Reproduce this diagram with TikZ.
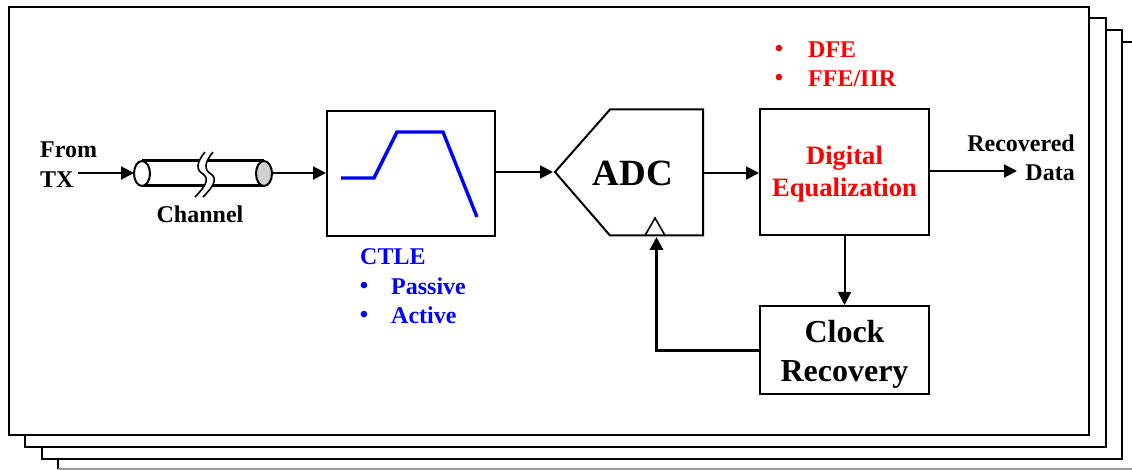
\documentclass[tikz,border=0pt]{standalone}
\usepackage{fontspec}
\setmainfont{Liberation Serif}
\usepackage{xcolor}
\usetikzlibrary{
	arrows.meta,
	calc,
	positioning,
	shapes.geometric
}
\definecolor{EqRed}{RGB}{255,0,0}
\definecolor{CtleBlue}{RGB}{0,0,255}
\tikzset{
	sheet/.style={draw=black, line width=2pt, fill=white},
	block/.style={draw=black, line width=2pt, inner sep=0pt},
	link/.style={-{Triangle[length=13pt,width=13pt]}, line width=2pt},
	lbl/.style={inner sep=0pt, font=\fontsize{24}{29}\selectfont\bfseries}
}

\begin{document}
\begin{tikzpicture}[x=1pt, y=-1pt]
			\useasboundingbox (0,0) rectangle (1132,470);
			% stacked sheets
			\draw[line width=2pt] (1132,42) -- (58,42) -- (58,469);
			\draw[line width=1.4pt, black!40] (58,469) -- (1132,469);
			\draw[sheet] (42,30) rectangle (1122,459);
			\draw[sheet] (25,18) rectangle (1106,447);
			\draw[sheet] (9,7) rectangle (1089,435);
			% blocks
			\node[block, minimum width=168pt, minimum height=125pt] (ctle) at (411,173.5) {};
			\node[block, minimum width=169pt, minimum height=126pt] (eq) at (844.5,172) {};
			\node[inner sep=0pt, align=center, text=EqRed, font=\fontsize{26.6}{32}\selectfont\bfseries] (eqtxt) at (844.5,174.5) {Digital\\Equalization};
			\node[block, minimum width=169pt, minimum height=88pt] (clk) at (844.5,350) {};
			\node[inner sep=0pt, align=center, font=\fontsize{32}{39}\selectfont\bfseries] (clktxt) at (844.5,354.5) {Clock\\Recovery};
			\draw[line width=2pt] (555,172) -- (610,109.5) -- (703,109.5) -- (703,235.5) -- (610,235.5) -- cycle;
			\node[inner sep=0pt, font=\fontsize{37}{44}\selectfont\bfseries] (adc) at (633,173) {ADC};
			\coordinate (adcin) at (553,172);
			\coordinate (adcout) at (703,173);
			\coordinate (adcclk) at (656.5,237);
			\draw[line width=1.6pt] (645,235.5) -- (655,218) -- (665,235.5);
			% filter shape
			\draw[CtleBlue, line width=3.4pt] (341,178) -- (374,178) -- (397,132) -- (443,132) -- (477,217);
			% channel
			\coordinate (lcap) at (134,173);
			\coordinate (rcap) at (272,173);
			\draw[line width=3pt] (142,161) -- (264,161) (142,186) -- (264,186);
			\draw[line width=2pt, fill=white] (142,173.5) ellipse (8pt and 12.5pt);
			\draw[line width=2pt, fill=black!18] (264,173.5) ellipse (8pt and 12.5pt);
			\fill[white] (205,152) .. controls (196,163) and (196,170) .. (203,174) .. controls (210,179) and (205,187) .. (195,197) -- (203,197) .. controls (213,187) and (218,179) .. (211,174) .. controls (204,170) and (204,163) .. (213,152) -- cycle;
			\draw[line width=1.6pt] (205,152) .. controls (196,163) and (196,170) .. (203,174) .. controls (210,179) and (205,187) .. (195,197);
			\draw[line width=1.6pt] (213,152) .. controls (204,163) and (204,170) .. (211,174) .. controls (218,179) and (213,187) .. (203,197);
			% labels
			\node[lbl, align=left, anchor=west, font=\fontsize{24}{30}\selectfont\bfseries] (from) at (40,164.5) {From\\TX};
			\node[lbl] (chan) at (200,214) {Channel};
			\node[lbl, text=CtleBlue, anchor=west] (ctlelbl) at (360,257) {CTLE};
			\node[lbl, text=CtleBlue] (dota) at (364,288) {•};
			\node[lbl, text=CtleBlue, anchor=west] (passive) at (391,286.5) {Passive};
			\node[lbl, text=CtleBlue] (dotb) at (364,317) {•};
			\node[lbl, text=CtleBlue, anchor=west] (active) at (391,315.5) {Active};
			\node[lbl, text=EqRed] (dotc) at (779,51) {•};
			\node[lbl, text=EqRed, anchor=west] (dfe) at (808,50) {DFE};
			\node[lbl, text=EqRed] (dotd) at (779,80) {•};
			\node[lbl, text=EqRed, anchor=west] (ffe) at (808,79) {FFE/IIR};
			\node[lbl, align=right, anchor=east] (data) at (1075,157.5) {Recovered\\Data};
			% connectors
			\coordinate (txend) at (78,173);
			\coordinate (dataend) at (1017,171);
			\draw[link] (txend) -- (lcap);
			\draw[link] (rcap) -- (ctle.west |- rcap);
			\draw[link] (ctle.east |- adcin) -- (adcin);
			\draw[link] (adcout) -- (eq.west |- adcout);
			\draw[link] (eq.east |- dataend) -- (dataend);
			\draw[link] (eq) -- (clk);
			\draw[link, line width=3pt] (clk.west) -| (adcclk);
		\end{tikzpicture}
\end{document}
